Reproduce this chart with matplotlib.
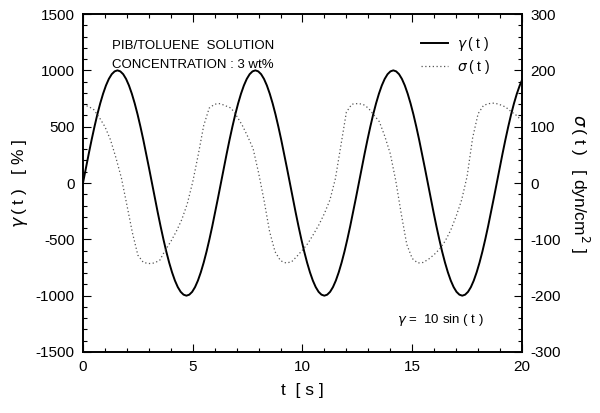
import math
import matplotlib
matplotlib.use("Agg")
import matplotlib.pyplot as plt
from matplotlib.ticker import MultipleLocator

plt.rcParams['font.family'] = ['Liberation Sans', 'DejaVu Sans']
plt.rcParams['mathtext.fontset'] = 'dejavusans'
plt.rcParams['axes.unicode_minus'] = False

# strain gamma(t) [%], sampled every pi/24 s, plus the end point t = 20 s
gamma_period = [0, 131, 259, 383, 500, 609, 707, 793, 866, 924, 966, 991,
                1000, 991, 966, 924, 866, 793, 707, 609, 500, 383, 259, 131,
                0, -131, -259, -383, -500, -609, -707, -793, -866, -924, -966, -991,
                -1000, -991, -966, -924, -866, -793, -707, -609, -500, -383, -259, -131]
gamma = (gamma_period * 3 + [0, 131, 259, 383, 500, 609, 707, 793, 866, 913])
t_gamma = [k * math.pi / 24 for k in range(153)] + [20.0]

# stress sigma(t) [dyn/cm^2], read every 0.25 s
t_sigma = [i * 0.25 for i in range(81)]
sigma = [139, 136, 130, 116, 100, 77, 45, 9, -39, -88, -128, -141, -143,
         -142, -137, -119, -104, -86, -65, -37, 2, 50, 102, 133, 140, 141,
         137, 133, 119, 103, 83, 61, 18, -31, -86, -122, -138, -142, -140,
         -130, -119, -107, -91, -74, -54, -30, 8, 67, 126, 140, 141, 140,
         133, 121, 109, 83, 52, 4, -55, -109, -134, -142, -141, -135, -127,
         -117, -103, -84, -59, -30, 12, 80, 123, 138, 141, 142, 139, 135,
         127, 120, 110]

fig = plt.figure(figsize=(6.0, 4.13), dpi=100)
ax = fig.add_axes([0.1383, 0.1477, 0.7317, 0.8183])
ax2 = ax.twinx()

l1, = ax.plot(t_gamma, gamma, color='black', lw=1.4, label=r'$\gamma\,$( t )')
l2, = ax2.plot(t_sigma, sigma, color='#555555', lw=0.9, linestyle=(0, (1, 2)),
               label=r'$\sigma\,$( t )')

ax.set_xlim(0, 20)
ax.set_ylim(-1500, 1500)
ax2.set_ylim(-300, 300)

ax.xaxis.set_major_locator(MultipleLocator(5))
ax.xaxis.set_minor_locator(MultipleLocator(1))
ax.yaxis.set_major_locator(MultipleLocator(500))
ax.yaxis.set_minor_locator(MultipleLocator(100))
ax2.yaxis.set_major_locator(MultipleLocator(100))
ax2.yaxis.set_minor_locator(MultipleLocator(20))

ax.tick_params(axis='x', which='both', direction='in', top=True, bottom=True, labelsize=11, pad=6)
ax.tick_params(axis='y', which='both', direction='in', left=True, right=False, labelsize=11, pad=6)
ax.tick_params(which='major', length=6, width=0.8)
ax.tick_params(which='minor', length=3, width=0.8)
ax2.tick_params(axis='y', which='both', direction='in', labelsize=11, pad=6)
ax2.tick_params(which='major', length=6, width=0.8)
ax2.tick_params(which='minor', length=3, width=0.8)

for a in (ax, ax2):
    for s in a.spines.values():
        s.set_linewidth(1.2)

ax.set_xlabel('t  [ s ]', fontsize=12.5, labelpad=6)
ax.set_ylabel(r'$\gamma\,$( t )   [ % ]', fontsize=12.5, labelpad=4)
ax2.set_ylabel(r'$\sigma\,$( t )   [ dyn/cm$^2$ ]', fontsize=12.5, rotation=270, labelpad=22)

ax.text(0.065, 0.906, 'PIB/TOLUENE  SOLUTION', transform=ax.transAxes,
        fontsize=9.5, va='center', ha='left')
ax.text(0.065, 0.848, 'CONCENTRATION : 3 wt%', transform=ax.transAxes,
        fontsize=9.5, va='center', ha='left')
ax.text(0.715, 0.095, r'$\gamma$ =  10 sin ( t )', transform=ax.transAxes,
        fontsize=9.5, va='center', ha='left')

ax.legend(handles=[l1, l2], loc='upper right', bbox_to_anchor=(0.955, 0.975),
          frameon=False, fontsize=10, handlelength=2.0, handletextpad=0.6,
          labelspacing=0.35)

fig.savefig('out.png', dpi=100)
